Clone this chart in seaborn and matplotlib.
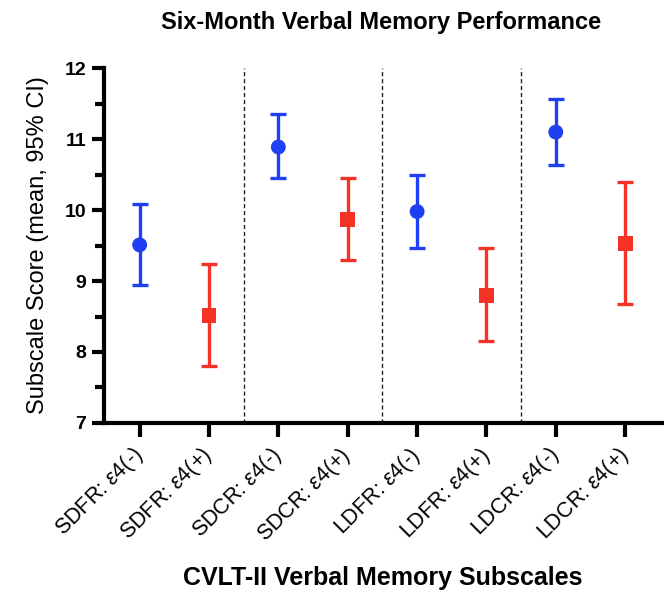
import numpy as np
import matplotlib
matplotlib.use("Agg")
import matplotlib.pyplot as plt
import pandas as pd
import seaborn as sns

# values
labels = ['SDFR: $\\mathit{ε4(‐)}$', 'SDFR: $\\mathit{ε4(+)}$',
          'SDCR: $\\mathit{ε4(‐)}$', 'SDCR: $\\mathit{ε4(+)}$',
          'LDFR: $\\mathit{ε4(‐)}$', 'LDFR: $\\mathit{ε4(+)}$',
          'LDCR: $\\mathit{ε4(‐)}$', 'LDCR: $\\mathit{ε4(+)}$']
group = ['neg', 'pos', 'neg', 'pos', 'neg', 'pos', 'neg', 'pos']
means = [9.51, 8.52, 10.89, 9.87, 9.98, 8.80, 11.10, 9.53]
lower = [8.94, 7.80, 10.45, 9.30, 9.46, 8.16, 10.64, 8.67]
upper = [10.08, 9.24, 11.36, 10.45, 10.49, 9.46, 11.57, 10.39]

sns.set_style('ticks', {'axes.edgecolor': 'black', 'text.color': 'black',
                        'xtick.color': 'black', 'ytick.color': 'black',
                        'axes.labelcolor': 'black'})
plt.rcParams['font.family'] = ['Liberation Sans', 'DejaVu Sans']
plt.rcParams['mathtext.fontset'] = 'custom'
plt.rcParams['mathtext.it'] = 'Liberation Sans:italic'
plt.rcParams['mathtext.rm'] = 'Liberation Sans'

df = pd.DataFrame({'x': np.arange(len(labels)), 'mean': means,
                   'lo': lower, 'hi': upper, 'grp': group})
colors = {'neg': '#1f3ff2', 'pos': '#f43226'}

fig = plt.figure(figsize=(6.64, 5.99), dpi=100)
ax = fig.add_axes([0.156, 0.294, 0.844, 0.592])

for _, r in df.iterrows():
    ax.errorbar(r['x'], r['mean'], yerr=[[r['mean'] - r['lo']], [r['hi'] - r['mean']]],
                fmt='none', ecolor=colors[r['grp']], elinewidth=2.4,
                capsize=6, capthick=2.4, zorder=2)

sns.scatterplot(data=df, x='x', y='mean', hue='grp', style='grp',
                palette=colors, markers={'neg': 'o', 'pos': 's'},
                s=115, edgecolor='none', legend=False, zorder=3, ax=ax)

for xv in [1.5, 3.5, 5.5]:
    ax.axvline(xv, color='#222222', ls=(0, (3, 2)), lw=1.0, zorder=1)

ax.set_xlim(-0.52, 7.56)
ax.set_ylim(7, 12)
ax.set_yticks([7, 8, 9, 10, 11, 12])
ax.set_yticks(np.arange(7.5, 12, 1.0), minor=True)
ax.set_xticks(df['x'])
ax.set_xticklabels(labels, rotation=45, ha='right', va='center',
                   rotation_mode='anchor', fontsize=15.5)
for t in ax.get_yticklabels():
    t.set_fontweight('bold')
    t.set_fontsize(14)
ax.tick_params(axis='y', which='major', width=3, length=9)
ax.tick_params(axis='x', which='major', width=3, length=10, pad=11)
ax.tick_params(axis='y', which='minor', width=3, length=6.5)
ax.spines['top'].set_visible(False)
ax.spines['right'].set_visible(False)
ax.spines['left'].set_linewidth(3)
ax.spines['bottom'].set_linewidth(3)
ax.set_xlabel('')
ax.set_ylabel('')

fig.text(0.574, 0.963, 'Six-Month Verbal Memory Performance', ha='center',
         va='center', fontsize=17, fontweight='bold')
fig.text(0.057, 0.591, 'Subscale Score (mean, 95% CI)', ha='center',
         va='center', rotation=90, fontsize=17)
fig.text(0.577, 0.035, 'CVLT-II Verbal Memory Subscales', ha='center',
         va='center', fontsize=18, fontweight='bold')

plt.savefig('out.png', dpi=100)
